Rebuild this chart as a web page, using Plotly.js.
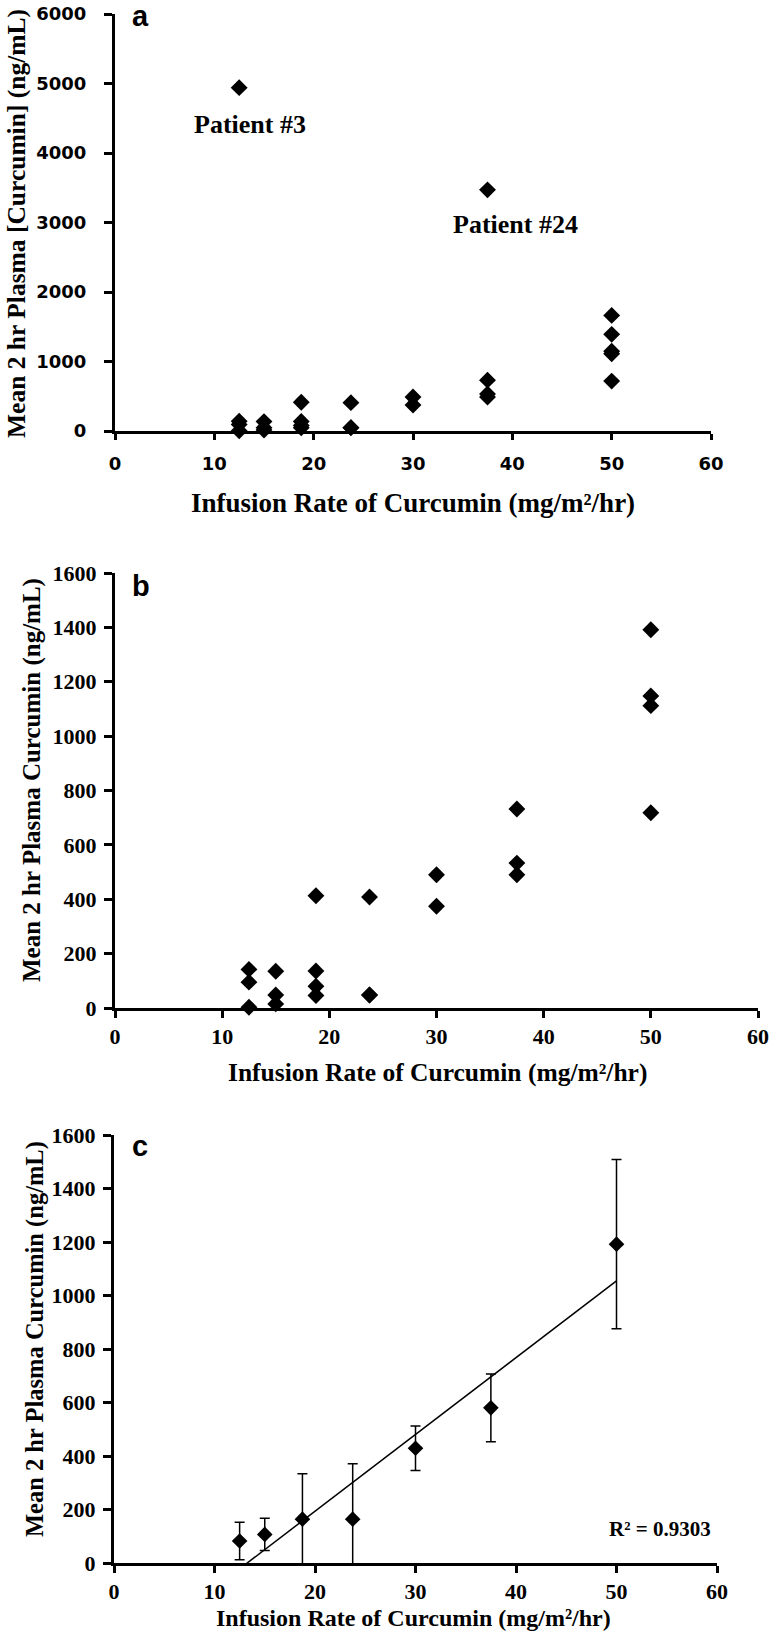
<!DOCTYPE html>
<html>
<head>
<meta charset="utf-8">
<script src="https://cdn.plot.ly/plotly-3.0.1.min.js"></script>
<style>html,body{margin:0;padding:0;background:#fff}#chart{width:774px;height:1645px}</style>
</head>
<body>
<div id="chart"></div>
<script>
// ---------- DATA ----------
// Individual patients (panels a and b): infusion rate (mg/m2/hr) and mean 2 hr plasma curcumin (ng/mL)
const rates = [12.5, 12.5, 12.5, 15, 15, 15, 18.75, 18.75, 18.75, 18.75, 23.75, 23.75, 23.75, 30, 30, 37.5, 37.5, 37.5, 50, 50, 50, 50, 50];
const conc  = [142, 95, 3, 135, 48, 15, 413, 136, 80, 46, 408, 48, 48, 490, 374, 732, 533, 490, 1663, 1391, 1148, 1112, 718];
// Outlier patients (panel a only)
const outlierRates  = [12.5, 37.5];
const outlierConc   = [4940, 3470];
const outlierLabels = ["Patient #3", "Patient #24"];
// Panel c: mean ± SD per infusion rate
const meanRates = [12.5, 15, 18.75, 23.75, 30, 37.5, 50];
const meanConc  = [82, 107, 164, 164, 429, 580, 1192];
const sdConc    = [70, 60, 170, 207, 83, 127, 316];
const rSquaredText = "R\u00b2 = 0.9303";
// Ticks / labels
const xTicks   = [0, 10, 20, 30, 40, 50, 60];
const yTicksA  = [0, 1000, 2000, 3000, 4000, 5000, 6000];
const yTicksBC = [0, 200, 400, 600, 800, 1000, 1200, 1400, 1600];
const panelLetters = ["a", "b", "c"];
const xTitle  = "Infusion Rate of Curcumin (mg/m\u00b2/hr)";
const yTitleA = "Mean 2 hr Plasma [Curcumin] (ng/mL)";
const yTitleBC = "Mean 2 hr Plasma Curcumin (ng/mL)";

// ---------- helpers ----------
const W = 774, H = 1645;
const px = v => v / W;
const py = v => 1 - v / H;
const serif = "'Liberation Serif', 'Times New Roman', serif";
const sans = "'Liberation Sans', Arial, sans-serif";
const calib = "'DejaVu Sans', sans-serif";
const bold = arr => arr.map(v => '<b>' + v + '</b>');

// Panel b shows only the points within its axis range
const bMask = conc.map(v => v <= 1600);
const ratesB = rates.filter((_, i) => bMask[i]);
const concB = conc.filter((_, i) => bMask[i]);

// Linear trendline through the means (panel c)
const n = meanRates.length;
const mx = meanRates.reduce((a, b) => a + b, 0) / n;
const my = meanConc.reduce((a, b) => a + b, 0) / n;
let sxy = 0, sxx = 0;
for (let i = 0; i < n; i++) { sxy += (meanRates[i] - mx) * (meanConc[i] - my); sxx += (meanRates[i] - mx) ** 2; }
const slope = sxy / sxx, intercept = my - slope * mx;
const trendX = [meanRates[0], meanRates[n - 1]];
const trendY = trendX.map(x => intercept + slope * x);

const traces = [
  { x: rates.concat(outlierRates), y: conc.concat(outlierConc), xaxis: 'x', yaxis: 'y',
    type: 'scatter', mode: 'markers', cliponaxis: false,
    marker: { symbol: 'diamond', size: 13, color: '#000' } },
  { x: ratesB, y: concB, xaxis: 'x2', yaxis: 'y2',
    type: 'scatter', mode: 'markers', cliponaxis: false,
    marker: { symbol: 'diamond', size: 13, color: '#000' } },
  { x: trendX, y: trendY, xaxis: 'x3', yaxis: 'y3',
    type: 'scatter', mode: 'lines', line: { color: '#000', width: 1.5 } },
  { x: meanRates, y: meanConc, xaxis: 'x3', yaxis: 'y3',
    type: 'scatter', mode: 'markers',
    marker: { symbol: 'diamond', size: 12, color: '#000' },
    error_y: { type: 'data', array: sdConc, visible: true, color: '#000', thickness: 1.5, width: 5 } }
];

function xAxis(dom, anchor, font, standoff, ticklen) {
  return { domain: dom, anchor: anchor, range: [0, 60], tickvals: xTicks, ticktext: bold(xTicks),
    showline: true, linecolor: '#000', linewidth: 3, ticks: 'outside', ticklen: ticklen, tickwidth: 3,
    tickcolor: '#000', showgrid: false, zeroline: false, tickfont: font, ticklabelstandoff: standoff,
    ticklabeloverflow: 'allow', fixedrange: true };
}
function yAxis(dom, anchor, range, ticks, font, standoff) {
  return { domain: dom, anchor: anchor, range: range, tickvals: ticks, ticktext: bold(ticks),
    showline: true, linecolor: '#000', linewidth: 3, ticks: 'outside', ticklen: 8, tickwidth: 3,
    tickcolor: '#000', showgrid: false, zeroline: false, tickfont: font, ticklabelstandoff: standoff,
    ticklabeloverflow: 'allow', fixedrange: true };
}
const fontA = { family: calib, size: 18, color: '#000', weight: 700 };
const fontBC = { family: serif, size: 22, color: '#000', weight: 700 };

function ann(text, x, y, size, family, opts) {
  return Object.assign({ text: '<b>' + text + '</b>', x: px(x), y: py(y), xref: 'paper', yref: 'paper', showarrow: false,
    xanchor: 'center', yanchor: 'middle', font: { family: family, size: size, color: '#000', weight: 700 } }, opts || {});
}

const annotations = [
  ann(panelLetters[0], 130, 16, 29, sans, { xanchor: 'left' }),
  ann(panelLetters[1], 130, 586, 29, sans, { xanchor: 'left' }),
  ann(panelLetters[2], 130, 1146, 29, sans, { xanchor: 'left' }),
  ann(outlierLabels[0], 250, 125, 26, serif),
  ann(outlierLabels[1], 515, 225, 26, serif),
  ann(xTitle, 413, 503, 27, serif),
  ann(xTitle, 437, 1072, 25.5, serif),
  ann(xTitle, 414, 1618, 24, serif),
  ann(yTitleA, 17, 224, 25.5, serif, { textangle: -90 }),
  ann(yTitleBC, 32, 780, 25, serif, { textangle: -90 }),
  ann(yTitleBC, 35, 1339, 24.5, serif, { textangle: -90 }),
  ann(rSquaredText, 713, 1529, 21, serif, { xanchor: 'right' })
];

const layout = {
  width: W, height: H, margin: { l: 0, r: 0, t: 0, b: 0 },
  paper_bgcolor: '#fff', plot_bgcolor: 'rgba(0,0,0,0)', showlegend: false,
  xaxis:  xAxis([px(115), px(711)], 'y', fontA, 8, 6),
  yaxis:  yAxis([py(431), py(14)], 'x', [0, 6000], yTicksA, fontA, 14),
  xaxis2: xAxis([px(115), px(758)], 'y2', fontBC, 0, 7),
  yaxis2: yAxis([py(1008), py(573)], 'x2', [0, 1600], yTicksBC, fontBC, 3),
  xaxis3: xAxis([px(114), px(717)], 'y3', fontBC, 0, 7),
  yaxis3: yAxis([py(1563), py(1135)], 'x3', [0, 1600], yTicksBC, fontBC, 3),
  annotations: annotations
};

Plotly.newPlot('chart', traces, layout, { displayModeBar: false, staticPlot: true });
</script>
</body>
</html>
